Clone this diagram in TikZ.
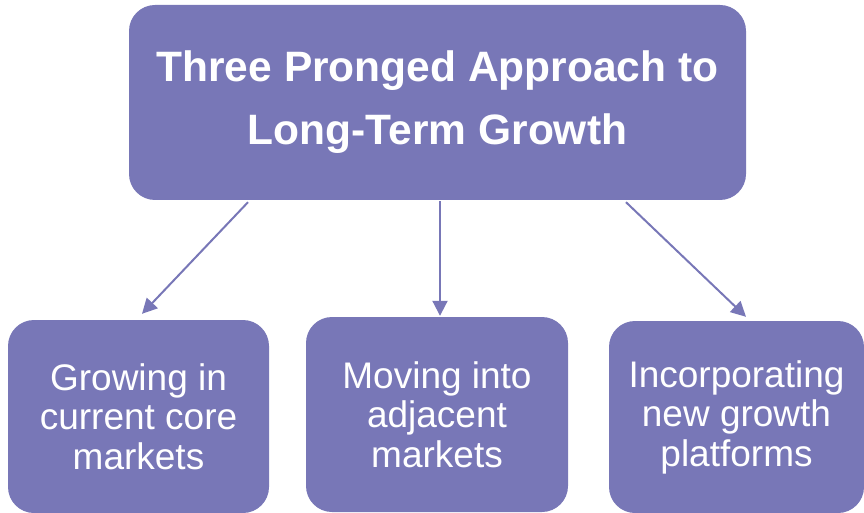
\documentclass[tikz,border=0pt]{standalone}
\usepackage{fontspec}
\setmainfont{Liberation Sans}
\usetikzlibrary{arrows.meta}
\definecolor{boxpurple}{RGB}{120,119,183}
\begin{document}
\begin{tikzpicture}[x=1pt,y=1pt,
  box/.style={fill=boxpurple,draw=none,rounded corners=26pt,inner sep=0pt,
    text=white,align=center},
  conn/.style={draw=boxpurple,line width=2pt,
    -{Triangle[length=15pt,width=15pt]}}]
\useasboundingbox (0,0) rectangle (864,512);
\node[box,minimum width=617pt,minimum height=195pt,
  font=\fontsize{42.5}{63}\selectfont\bfseries] (top) at (437.5,409.5)
  {Three Pronged Approach to\\Long-Term Growth};
\node[box,minimum width=261pt,minimum height=193pt,
  font=\fontsize{37}{39.5}\selectfont] (b1) at (138.5,95.5)
  {Growing in\\current core\\markets};
\node[box,minimum width=262pt,minimum height=195pt,
  font=\fontsize{37}{39.5}\selectfont] (b2) at (437,97.5)
  {Moving into\\adjacent\\markets};
\node[box,minimum width=255pt,minimum height=192pt,
  font=\fontsize{37}{39.5}\selectfont] (b3) at (736.5,95)
  {Incorporating\\new growth\\platforms};
\draw[conn] ([xshift=-189.5pt,yshift=-2pt]top.south) -- ([xshift=3.5pt,yshift=6pt]b1.north);
\draw[conn] ([xshift=2.5pt,yshift=-1pt]top.south) -- ([xshift=3pt,yshift=1pt]b2.north);
\draw[conn] ([xshift=188.5pt,yshift=-2pt]top.south) -- ([xshift=9.5pt,yshift=4pt]b3.north);
\end{tikzpicture}
\end{document}
